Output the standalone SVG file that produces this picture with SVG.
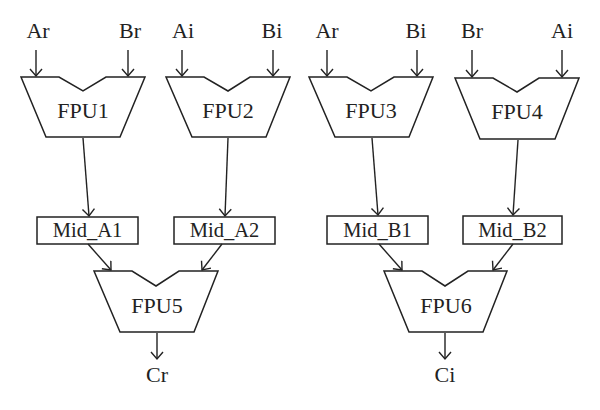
<svg xmlns="http://www.w3.org/2000/svg" width="600" height="410" viewBox="0 0 600 410">
<style>
.shape{fill:#fff;stroke:#222;stroke-width:1.5;stroke-linejoin:miter}
.lbl{font-family:"Liberation Serif","Times New Roman",serif;font-size:22px;fill:#222;text-anchor:middle}
.mid{font-family:"Liberation Serif","Times New Roman",serif;font-size:20.5px;fill:#222;text-anchor:middle}
.edge{fill:none;stroke:#222;stroke-width:1.4;marker-end:url(#arr)}
</style>
<defs>
<marker id="arr" markerUnits="userSpaceOnUse" markerWidth="12" markerHeight="16" refX="8" refY="6.5" orient="auto">
<path d="M1,0.5 L8,6.5 L1,12.5" fill="none" stroke="#222" stroke-width="1.4"/>
</marker>
</defs>
<rect width="600" height="410" fill="#fff"/>

<g id="inputs">
<text class="lbl" x="38" y="38">Ar</text>
<text class="lbl" x="130" y="38">Br</text>
<text class="lbl" x="183" y="38">Ai</text>
<text class="lbl" x="272" y="38">Bi</text>
<text class="lbl" x="327" y="38">Ar</text>
<text class="lbl" x="416" y="38">Bi</text>
<text class="lbl" x="472" y="38">Br</text>
<text class="lbl" x="562" y="38">Ai</text>
</g>

<g id="FPU1">
<path class="shape" d="M21,77 L59,77 L83,91 L106,77 L145,77 L120,137 L46,137 Z"/>
<text class="lbl" x="83" y="118">FPU1</text>
</g>
<g id="FPU2">
<path class="shape" d="M166,77 L204,77 L228,91 L250,77 L290,77 L266,137 L192,137 Z"/>
<text class="lbl" x="228" y="118">FPU2</text>
</g>
<g id="FPU3">
<path class="shape" d="M309,77 L347,77 L371,91 L394,77 L433,77 L409,137 L335,137 Z"/>
<text class="lbl" x="371" y="118">FPU3</text>
</g>
<g id="FPU4">
<path class="shape" d="M455,78 L493,78 L517,92 L539,78 L579,78 L555,139 L480,139 Z"/>
<text class="lbl" x="517" y="119">FPU4</text>
</g>

<g id="Mid_A1">
<rect class="shape" x="37" y="217" width="101" height="27"/>
<text class="mid" x="87.5" y="237">Mid_A1</text>
</g>
<g id="Mid_A2">
<rect class="shape" x="174" y="217" width="101" height="27"/>
<text class="mid" x="224.5" y="237">Mid_A2</text>
</g>
<g id="Mid_B1">
<rect class="shape" x="327" y="216" width="101" height="28"/>
<text class="mid" x="377.5" y="237">Mid_B1</text>
</g>
<g id="Mid_B2">
<rect class="shape" x="463" y="216" width="99" height="28"/>
<text class="mid" x="512.5" y="237">Mid_B2</text>
</g>

<g id="FPU5">
<path class="shape" d="M94,271 L132,271 L156,286 L179,271 L218,271 L194,332 L120,332 Z"/>
<text class="lbl" x="157" y="313">FPU5</text>
</g>
<g id="FPU6">
<path class="shape" d="M384,271 L422,271 L445,286 L468,271 L507,271 L483,332 L409,332 Z"/>
<text class="lbl" x="446" y="313">FPU6</text>
</g>

<g id="outputs">
<text class="lbl" x="157" y="382">Cr</text>
<text class="lbl" x="445" y="382">Ci</text>
</g>

<g id="connectors">
<line class="edge" x1="36" y1="50" x2="36" y2="76"/>
<line class="edge" x1="128" y1="50" x2="128" y2="76"/>
<line class="edge" x1="182" y1="50" x2="182" y2="76"/>
<line class="edge" x1="273" y1="50" x2="273" y2="76"/>
<line class="edge" x1="327" y1="50" x2="327" y2="76"/>
<line class="edge" x1="417" y1="50" x2="417" y2="76"/>
<line class="edge" x1="472" y1="50" x2="472" y2="77"/>
<line class="edge" x1="562" y1="50" x2="562" y2="77"/>
<line class="edge" x1="83" y1="138" x2="89" y2="216"/>
<line class="edge" x1="228" y1="138" x2="225" y2="216"/>
<line class="edge" x1="372" y1="138" x2="378" y2="215"/>
<line class="edge" x1="518" y1="140" x2="513" y2="215"/>
<line class="edge" x1="88" y1="244" x2="111" y2="270"/>
<line class="edge" x1="222" y1="244" x2="202" y2="270"/>
<line class="edge" x1="379" y1="244" x2="402" y2="270"/>
<line class="edge" x1="513" y1="244" x2="493" y2="270"/>
<line class="edge" x1="157" y1="333" x2="157" y2="359"/>
<line class="edge" x1="445" y1="333" x2="445" y2="359"/>
</g>
</svg>
